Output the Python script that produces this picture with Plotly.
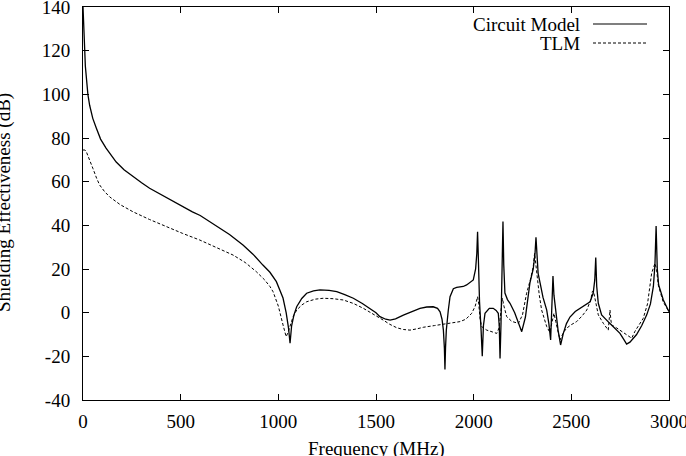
import plotly.graph_objects as go

# Circuit Model series (frequency MHz, shielding effectiveness dB)
circuit_f = [0, 2, 5, 8.5, 12, 17, 25, 34, 50, 68, 90, 118, 140, 170, 210, 256, 300, 341, 400, 450,
             512, 560, 600, 681, 750, 819, 870, 921, 957, 990, 1010, 1024, 1040, 1052, 1060, 1068, 1080,
             1094, 1120, 1145, 1180, 1213, 1260, 1299, 1340, 1384, 1430, 1469, 1500, 1520, 1550, 1572,
             1600, 1640, 1690, 1725, 1760, 1793, 1815, 1828, 1838, 1845, 1850, 1853, 1856, 1860, 1870,
             1879, 1896, 1913, 1947, 1964, 1998, 2010, 2016, 2020, 2024, 2030, 2038, 2044, 2050, 2058,
             2080, 2100, 2115, 2126, 2131, 2135, 2140, 2146, 2150, 2154, 2160, 2173, 2186, 2210, 2230,
             2246, 2265, 2288, 2305, 2314, 2319, 2324, 2330, 2340, 2355, 2374, 2385, 2394, 2400, 2406,
             2411, 2420, 2432, 2445, 2459, 2475, 2493, 2520, 2544, 2570, 2596, 2612, 2620, 2625, 2630,
             2638, 2655, 2698, 2749, 2770, 2783, 2800, 2834, 2860, 2886, 2905, 2920, 2928, 2934, 2940,
             2947, 2971, 3000]
circuit_se = [140, 133, 126, 121, 113, 106, 100, 95, 89, 84.6, 79.5, 75.4, 72.5, 69, 65.5, 62.3, 59.5,
              57, 54, 51.5, 48.5, 46.2, 44.5, 40, 35.8, 31, 26.8, 21.8, 18.5, 14.2, 10, 6.7, 0, -7, -14,
              -6, -1, 2.7, 6.5, 8.9, 10, 10.4, 10.2, 9.6, 8.3, 6.6, 4.2, 2.0, 0, -1.8, -3, -3.4, -2.8,
              -1.1, 0.8, 2, 2.6, 2.7, 2, 0.4, -3, -8, -16, -26, -16, -8, 1, 7.3, 11, 11.6, 12, 12.7, 15,
              20, 27, 37, 25, 5, -8, -20, -6, -0.3, 2, 2, 1, -0.3, -6, -21, -5, 20, 41.7, 22, 9, 6, 4.3,
              0, -5, -8.7, -2, 13.6, 20, 27, 34.5, 26, 18, 13.6, 7, 1.2, -5, -12.5, 0, 16.8, 8, 1, -8,
              -14.8, -9.5, -5, -2, 0.5, 2, 3.5, 5, 9, 15, 25.3, 12, 4.3, -1, -5, -9.5, -12.5, -14.4,
              -13.5, -10, -6, -1, 4, 12, 22, 39.7, 20, 12.7, 5.8, 0.4]

# TLM series
tlm_f = [0, 10, 17, 30, 51, 70, 85, 110, 137, 190, 256, 340, 425, 510, 597, 680, 768, 830, 887, 930,
         957, 973, 1000, 1024, 1034, 1040, 1050, 1060, 1075, 1094, 1120, 1145, 1190, 1230, 1280, 1333,
         1385, 1435, 1490, 1537, 1570, 1606, 1640, 1674, 1710, 1742, 1800, 1845, 1900, 1930, 1960, 1990,
         2008, 2015, 2020, 2026, 2033, 2041, 2067, 2095, 2118, 2130, 2138, 2143, 2147, 2155, 2169, 2195,
         2229, 2250, 2271, 2290, 2305, 2312, 2318, 2325, 2336, 2348, 2374, 2390, 2400, 2411, 2420, 2433,
         2442, 2460, 2476, 2500, 2527, 2555, 2579, 2600, 2607, 2613, 2620, 2638, 2664, 2689, 2694, 2698,
         2702, 2706, 2732, 2775, 2795, 2809, 2826, 2850, 2868, 2890, 2911, 2928, 2936, 2945, 2970, 3000]
tlm_se = [74.5, 74.5, 73.7, 71, 66, 61.5, 58.5, 55.5, 53, 49.5, 46.2, 42.7, 39.4, 36.3, 33.3, 30, 26.4,
          23, 18.8, 15, 12, 9.6, 3, -5.6, -10, -11, -9, -6.4, -2, 1.2, 3.5, 5, 6.2, 6.6, 6.4, 5.8, 4.2,
          2, -0.8, -3.4, -5.3, -6.9, -7.7, -8, -7.4, -6.7, -5.9, -5.3, -4.5, -4.1, -3, -0.3, 3, 5, 7.3,
          4, -3, -6.4, -8, -8.8, -9.5, -7, -1, 3, 6.6, 3, -1.8, -4, -4.9, -1, 8.9, 15, 21, 27.2, 22, 18,
          8, 1.2, -6.4, -9, -5, -0.3, -4, -8.7, -12.5, -9, -7.1, -5.5, -4.1, -1.5, 1.2, 6, 9.6, 10, 7,
          -1, -4.9, -8, -3, 1.2, -3, -5.6, -7, -9.5, -11, -11.7, -8.5, -5, -2.6, 4, 18, 22.6, 20, 12.7,
          5, 0.4]

x_ticks = [0, 500, 1000, 1500, 2000, 2500, 3000]
y_ticks = [-40, -20, 0, 20, 40, 60, 80, 100, 120, 140]

FONT = "Liberation Serif, Times New Roman, serif"
FS = 19
L, R, T, B = 83, 17, 7, 56
W, H = 686, 456
pw, ph = W - L - R, H - T - B

fig = go.Figure()
fig.add_trace(go.Scatter(x=circuit_f, y=circuit_se, mode="lines", name="Circuit Model",
                         line=dict(color="black", width=1.3), showlegend=False))
fig.add_trace(go.Scatter(x=tlm_f, y=tlm_se, mode="lines", name="TLM",
                         line=dict(color="black", width=1, dash="3px,2px"), showlegend=False))

axis_common = dict(showline=True, linecolor="black", linewidth=1, mirror="allticks",
                   ticks="inside", ticklen=6, tickcolor="black", tickwidth=1,
                   showgrid=False, zeroline=False, automargin=False,
                   ticklabeloverflow="allow",
                   tickfont=dict(family=FONT, size=FS, color="black"))

fig.update_xaxes(range=[0, 3000], tickvals=x_ticks, ticktext=[str(v) for v in x_ticks],
                 ticklabelstandoff=4, **axis_common)
fig.update_yaxes(range=[-40, 140], tickvals=y_ticks, ticktext=[str(v) for v in y_ticks],
                 ticklabelstandoff=8, **axis_common)

def px_x(p):
    return (p - L) / pw

def px_y(p):
    return 1 - (p - T) / ph

annotations = [
    dict(text="Frequency (MHz)", x=0.5, y=px_y(449), xref="paper", yref="paper",
         xanchor="center", yanchor="middle", showarrow=False,
         font=dict(family=FONT, size=FS, color="black")),
    dict(text="Shielding Effectiveness (dB)", x=px_x(4), y=px_y(203), xref="paper", yref="paper",
         xanchor="center", yanchor="middle", textangle=-90, showarrow=False,
         font=dict(family=FONT, size=FS, color="black")),
    dict(text="Circuit Model", x=px_x(582), y=px_y(24), xref="paper", yref="paper",
         xanchor="right", yanchor="middle", showarrow=False,
         font=dict(family=FONT, size=FS, color="black")),
    dict(text="TLM", x=px_x(582), y=px_y(43), xref="paper", yref="paper",
         xanchor="right", yanchor="middle", showarrow=False,
         font=dict(family=FONT, size=FS, color="black")),
]
shapes = [
    dict(type="line", xref="paper", yref="paper", x0=px_x(593), x1=px_x(647), y0=px_y(24), y1=px_y(24),
         line=dict(color="black", width=1.2)),
    dict(type="line", xref="paper", yref="paper", x0=px_x(593), x1=px_x(647), y0=px_y(43), y1=px_y(43),
         line=dict(color="black", width=1, dash="3px,2px")),
]

fig.update_layout(width=W, height=H, margin=dict(l=L, r=R, t=T, b=B, autoexpand=False),
                  paper_bgcolor="white", plot_bgcolor="white",
                  font=dict(family=FONT, size=FS, color="black"),
                  annotations=annotations, shapes=shapes, showlegend=False)

fig.write_html("out.html")
